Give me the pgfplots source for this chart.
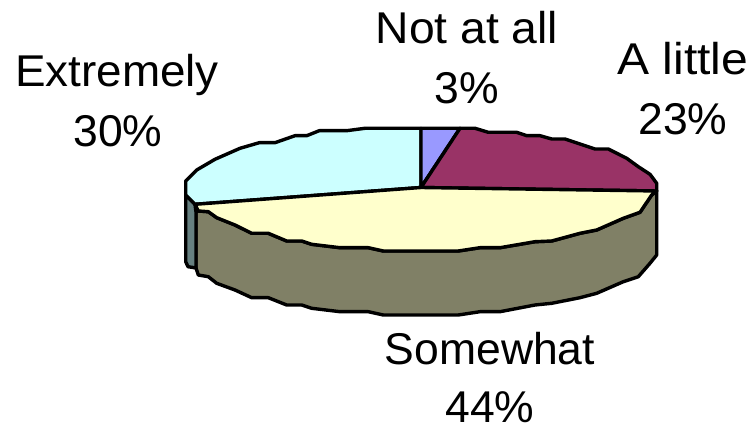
\documentclass[border=0pt]{standalone}
\usepackage{pgfplots}
\pgfplotsset{compat=1.18}
\usepackage{fontspec}
\setmainfont{Liberation Sans}
\definecolor{cExt}{HTML}{CCFFFF}
\definecolor{cNot}{HTML}{9999FF}
\definecolor{cLit}{HTML}{993366}
\definecolor{cSom}{HTML}{FFFFCC}
\definecolor{cSide}{HTML}{808066}
\definecolor{cSideE}{HTML}{668080}
\tikzset{lab/.style={anchor=base,font=\fontsize{44.5pt}{50pt}\selectfont,inner sep=0pt,text=black}}
\begin{document}
\begin{tikzpicture}
\useasboundingbox (0,0) rectangle (753pt,427pt);
\begin{axis}[
  at={(0,0)},anchor=south west,
  scale only axis,width=753pt,height=427pt,
  xmin=0,xmax=753,ymin=0,ymax=427,y dir=reverse,
  hide axis,clip=false,
  every axis plot/.append style={draw=black,line width=3.4pt,line join=round,mark=none},
]
% side of Somewhat
\addplot[fill=cSide] coordinates {
 (656.7,191) (651.7,195) (640,212.3) (623.3,218.3) (596.7,230) (580,233.3) (551.7,241) (535,241.7) (500,247.7) (480,247.7) (458.3,251) (383.3,251) (368.3,247.7) (340,247.7) (311.7,244.3) (301.7,241) (286.7,241) (268.3,233.3) (251.7,233.3) (235,225) (216.7,217.7) (208.3,211.7) (198.3,211) (196,212)
 (196,268) (198.3,275) (208.3,276.7) (216.7,283.3) (235,290) (251.7,297.7) (268.3,297.7) (286.7,305) (301.7,305) (311.7,308.3) (340,311.7) (368.3,311.7) (383.3,315) (458.3,315) (480,311.7) (500,311.7) (535,305) (551.7,303.3) (580,297.7) (596.7,293.3) (623.3,281.7) (638.3,276.7) (650,263.3) (656.7,255)
} -- cycle;
% side of Extremely
\addplot[fill=cSideE] coordinates {
 (185.7,195) (195,204.3) (196,212) (196,268) (188,266.7) (185.7,261.7)
} -- cycle;
% Extremely 30%
\addplot[fill=cExt] coordinates {
 (421,187.5) (195,204.3) (185.7,195) (185.7,181) (196.7,170) (215,159.3) (240,148.3) (259.3,142.7) (275,142.7) (295,135.7) (306.7,135.7) (319.3,130.7) (346.7,130.7) (365,128.3) (421,128.3)
} -- cycle;
% Not at all 3%
\addplot[fill=cNot] coordinates {
 (421,187.5) (421,128.3) (460,128.3)
} -- cycle;
% A little 23%
\addplot[fill=cLit] coordinates {
 (421,187.5) (460,128.3) (475,128.3) (488.3,132.3) (516.7,132.3) (526.7,135.7) (540,135.7) (551.7,139) (565,139) (595,149) (608.3,149) (626.7,158.3) (638.3,166.7) (650,174.3) (656.7,183.3) (656.7,191)
} -- cycle;
% Somewhat 44%
\addplot[fill=cSom] coordinates {
 (421,187.5) (656.7,191) (651.7,195) (640,212.3) (623.3,218.3) (596.7,230) (580,233.3) (551.7,241) (535,241.7) (500,247.7) (480,247.7) (458.3,251) (383.3,251) (368.3,247.7) (340,247.7) (311.7,244.3) (301.7,241) (286.7,241) (268.3,233.3) (251.7,233.3) (235,225) (216.7,217.7) (208.3,211.7) (198.3,211) (195,204.3)
} -- cycle;
\node[lab,xscale=1.04] at (axis cs:467,44) {Not at all};
\node[lab] at (axis cs:467,104) {3\%};
\node[lab,xscale=1.08] at (axis cs:683,75) {A little};
\node[lab] at (axis cs:683,135) {23\%};
\node[lab,xscale=1.03] at (axis cs:117,87) {Extremely};
\node[lab] at (axis cs:118,147) {30\%};
\node[lab] at (axis cs:490,365) {Somewhat};
\node[lab] at (axis cs:490,423) {44\%};
\end{axis}
\end{tikzpicture}
\end{document}
